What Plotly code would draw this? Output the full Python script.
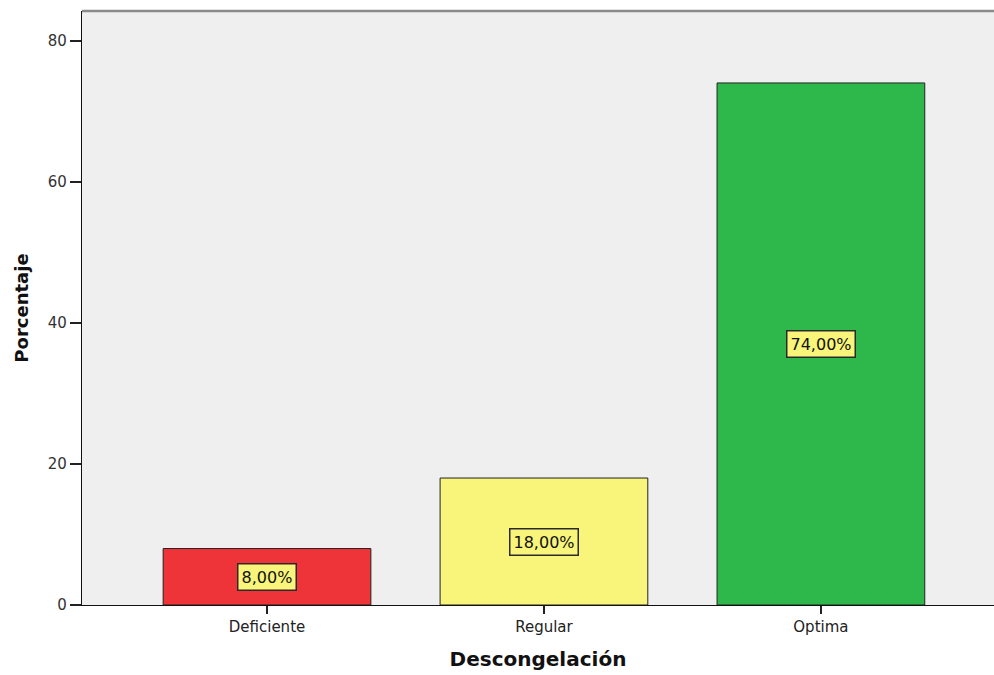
import plotly.graph_objects as go

# Frequency table: Descongelación
categories = ["Deficiente", "Regular", "Optima"]
percentages = [8.0, 18.0, 74.0]
bar_colors = ["#EE3339", "#F8F57A", "#2EB74A"]
y_ticks = [0, 20, 40, 60, 80]


def fmt_pct(v):
    return f"{v:.2f}".replace(".", ",") + "%"


fig = go.Figure()
fig.add_trace(go.Bar(
    x=categories,
    y=percentages,
    width=0.75,
    marker=dict(color=bar_colors, line=dict(color="#222222", width=1)),
    hoverinfo="x+y",
    showlegend=False,
))

# Value labels in boxes at the middle of each bar
for cat, v in zip(categories, percentages):
    fig.add_annotation(
        x=cat, y=v / 2, xref="x", yref="y",
        text=fmt_pct(v), showarrow=False,
        font=dict(family="DejaVu Sans", size=16, color="#111111"),
        bgcolor="#F8F57A", bordercolor="#2A2A2A", borderwidth=1.5, borderpad=3,
    )

# Grey top edge of the plot frame
fig.add_shape(type="line", xref="paper", yref="paper",
              x0=0, x1=1, y0=1, y1=1,
              line=dict(color="#8A8A8A", width=2.5))

fig.update_layout(
    width=994, height=675,
    margin=dict(l=82, r=0, t=11, b=70),
    paper_bgcolor="white",
    plot_bgcolor="#EFEFEF",
    font=dict(family="DejaVu Sans", color="#333333"),
    xaxis=dict(
        type="category",
        range=[-0.668, 2.625],
        showgrid=False, zeroline=False,
        showline=True, linecolor="#111111", linewidth=1.3,
        ticks="outside", ticklen=8, tickcolor="#222222", tickwidth=1.5,
        tickfont=dict(family="DejaVu Sans", size=15, color="#222222"),
        title=dict(text="Descongelación",
                   font=dict(family="DejaVu Sans", size=20, color="#111111",
                             weight="bold"),
                   standoff=16),
    ),
    yaxis=dict(
        range=[0, 84.2],
        tickvals=y_ticks,
        showgrid=False, zeroline=False,
        showline=True, linecolor="#111111", linewidth=1.3,
        ticks="outside", ticklen=11, tickcolor="#222222", tickwidth=1.5,
        tickfont=dict(family="DejaVu Sans", size=15, color="#333333"),
        title=dict(text="Porcentaje",
                   font=dict(family="DejaVu Sans", size=18, color="#111111",
                             weight="bold"),
                   standoff=14),
    ),
)

fig.write_html("out.html")
